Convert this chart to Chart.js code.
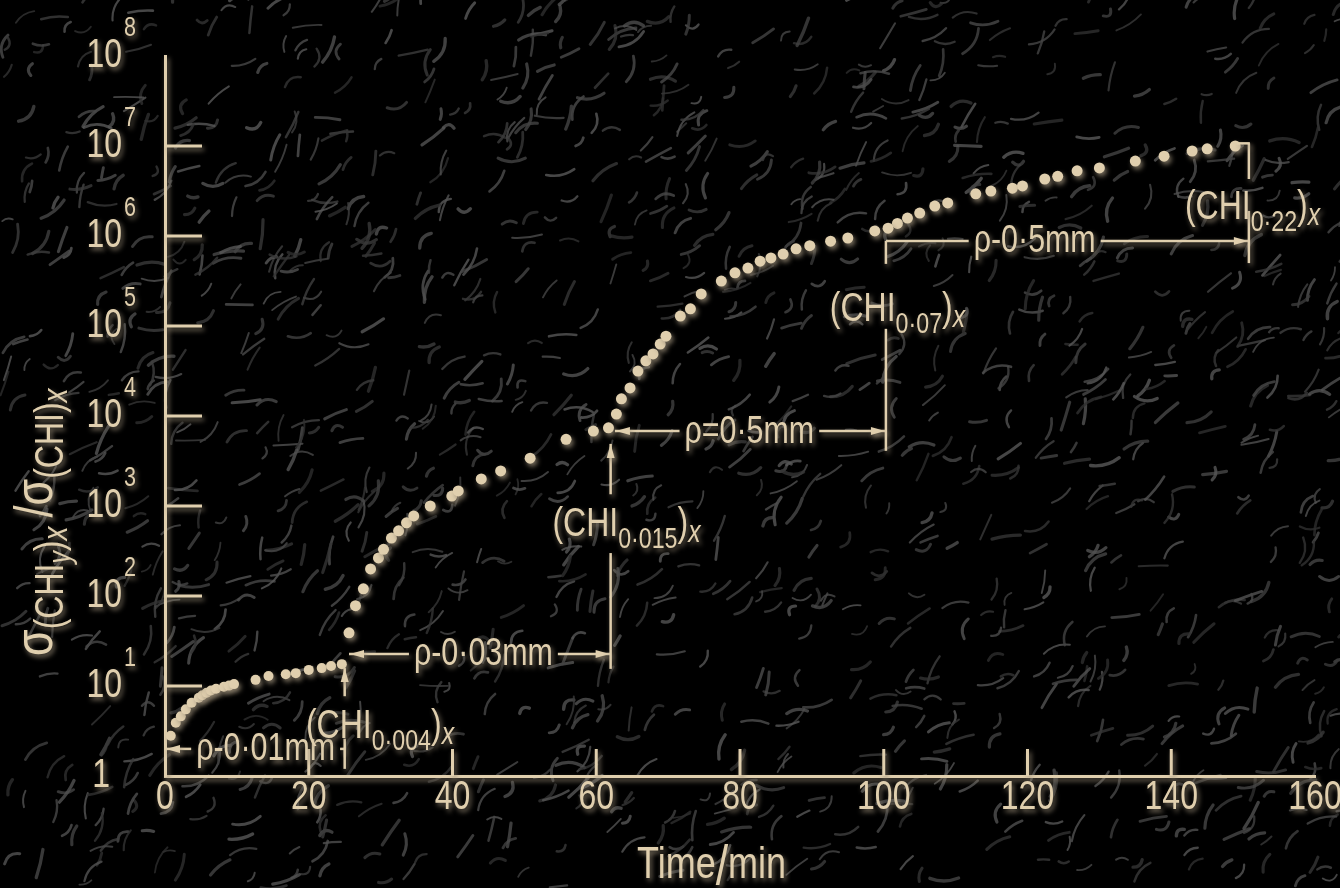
<!DOCTYPE html>
<html>
<head>
<meta charset="utf-8">
<title>Cross-section ratio vs time</title>
<script src="https://cdn.jsdelivr.net/npm/chart.js@4/dist/chart.umd.min.js"></script>
<style>
  html, body { margin: 0; padding: 0; background: #000; }
  canvas { display: block; }
</style>
</head>
<body>
<canvas id="chart" width="1340" height="888"></canvas>
<script>
// Values: time in minutes, ratio sigma(CHIy)x / sigma(CHI)x
const timeA  = [0.8, 1.5, 2.2, 2.9, 3.7, 4.7, 5.2, 5.8, 6.4, 7.1, 8.2, 8.9, 9.6, 12.6, 14.4, 16.8, 18.2, 20.0, 21.8, 23.1, 24.6];
const ratioA = [2.8, 3.9, 4.6, 5.5, 6.5, 7.4, 7.9, 8.4, 8.9, 9.3, 9.8, 10.1, 10.5, 11.7, 12.9, 13.5, 13.9, 15.1, 15.8, 16.7, 17.5];

const timeB  = [25.6, 26.5, 27.6, 28.6, 29.7, 30.4, 31.5, 32.5, 33.6, 34.6, 36.9, 39.9, 40.8, 44.0, 46.7, 50.8, 55.8, 59.6, 61.7];
const ratioB = [39, 78, 120, 200, 265, 330, 440, 530, 650, 775, 1000, 1290, 1470, 2000, 2450, 3400, 5500, 6800, 7400];

const timeC  = [62.8, 63.5, 64.7, 65.8, 66.9, 67.9, 68.9, 69.7, 71.7, 73.1, 74.6, 77.4, 79.3, 81.1, 82.8, 84.3, 86.0, 87.8, 89.7, 92.6, 95.0, 98.75, 100.6];
const ratioC = [1.05e4, 1.55e4, 2.05e4, 3.16e4, 4.1e4, 4.9e4, 6.3e4, 7.7e4, 1.29e5, 1.55e5, 2.27e5, 3.16e5, 3.9e5, 4.4e5, 5.25e5, 5.7e5, 6.3e5, 7.2e5, 7.8e5, 8.75e5, 9.5e5, 1.14e6, 1.22e6];

const timeD  = [101.9, 103.3, 105.0, 107.1, 108.9, 112.8, 114.9, 117.9, 119.3, 122.4, 124.2, 126.9, 130.0, 135.0, 139.0, 142.9, 145.0, 148.9];
const ratioD = [1.38e6, 1.58e6, 1.8e6, 2.15e6, 2.33e6, 2.94e6, 3.16e6, 3.4e6, 3.6e6, 4.3e6, 4.6e6, 5.3e6, 5.7e6, 6.8e6, 7.7e6, 8.8e6, 9.3e6, 1.0e7];

const yDecades   = [1, 1e1, 1e2, 1e3, 1e4, 1e5, 1e6, 1e7, 1e8];
const yExponents = ['', '1', '2', '3', '4', '5', '6', '7', '8'];

const INK = '#e0cfae';
const FONT = '"Liberation Sans", Arial, "DejaVu Sans", sans-serif';
const SQ = 0.8; // horizontal squeeze, the figure uses a narrow face
function font(size, style) { return (style || '') + ' ' + size + 'px ' + FONT; }

function pts(t, r) { return t.map((v, i) => ({ x: v, y: r[i] })); }

// dimension arrows and bars, in data units
const spans = [
  { x0: 0, x1: 25, y: 2.0, label: 'ρ-0·01mm', at: 14.0, left: true, right: false },
  { x0: 25.6, x1: 62, y: 22.7, label: 'ρ-0·03mm', at: 44.3, left: true, right: true },
  { x0: 62.6, x1: 100.3, y: 6800, label: 'ρ=0·5mm', at: 81.3, left: true, right: true },
  { x0: 100.3, x1: 150.8, y: 8.8e5, label: 'ρ-0·5mm', at: 121.0, left: false, right: true }
];
const bars = [
  { x: 25, y0: 15.8, y1: 7.7, up: true }, { x: 25, y0: 2.6, y1: 1.2 },
  { x: 62, y0: 4900, y1: 1350, up: true }, { x: 62, y0: 300, y1: 15.5 },
  { x: 100.3, y0: 9.3e4, y1: 4100 }, { x: 100.3, y0: 8.8e5, y1: 4.9e5 },
  { x: 150.8, y0: 1.07e7, y1: 4.3e6 }, { x: 150.8, y0: 1.9e6, y1: 5e5 }
];
const labels = [
  { x: 19.6, y: 2.64, sub: '0·004' },
  { x: 53.9, y: 464, sub: '0·015' },
  { x: 92.5, y: 1.137e5, sub: '0·07' },
  { x: 141.9, y: 1.55e6, sub: '0·22' }
];

function seeded(seed) {
  return function () { seed = (seed * 1664525 + 1013904223) >>> 0; return seed / 4294967296; };
}

function drawTexture(ctx, w, h) {
  const rnd = seeded(20240611);
  ctx.lineCap = 'round';
  for (let i = 0; i < 1500; i++) {
    const x = rnd() * w, y = rnd() * h;
    const len = 10 + rnd() * 20;
    const a = -0.7 + (rnd() - 0.5) * 1.6;
    const bend = (rnd() - 0.5) * 16;
    const dx = Math.cos(a) * len, dy = Math.sin(a) * len;
    const g = 45 + Math.floor(rnd() * 45);
    ctx.strokeStyle = 'rgba(' + g + ',' + g + ',' + g + ',0.8)';
    ctx.lineWidth = 1.8 + rnd() * 1.6;
    ctx.beginPath();
    ctx.moveTo(x, y);
    ctx.quadraticCurveTo(x + dx / 2 - dy / len * bend, y + dy / 2 + dx / len * bend, x + dx, y + dy);
    ctx.stroke();
  }
}

function setEmboss(ctx) {
  ctx.shadowColor = 'rgba(150,138,116,0.8)';
  ctx.shadowBlur = 5;
  ctx.shadowOffsetX = 2;
  ctx.shadowOffsetY = 3;
}

// narrow text: squeeze horizontally around the anchor
function txt(ctx, s, x, y) {
  ctx.save();
  ctx.translate(x, y);
  ctx.scale(SQ, 1);
  ctx.fillText(s, 0, 0);
  ctx.restore();
}

// draws a run of text pieces with baseline offsets, returns end x
function run(ctx, x, y, parts) {
  ctx.textAlign = 'left';
  ctx.textBaseline = 'alphabetic';
  for (const p of parts) {
    ctx.font = font(p.size, p.italic ? 'italic' : '');
    txt(ctx, p.t, x, y + (p.dy || 0));
    x += ctx.measureText(p.t).width * SQ + (p.gap || 0);
  }
  return x;
}

function head(ctx, x, y, dir) {
  const L = 14, W = 4;
  ctx.beginPath();
  if (dir === 'left') { ctx.moveTo(x, y); ctx.lineTo(x + L, y - W); ctx.lineTo(x + L, y + W); }
  if (dir === 'right') { ctx.moveTo(x, y); ctx.lineTo(x - L, y - W); ctx.lineTo(x - L, y + W); }
  if (dir === 'up') { ctx.moveTo(x, y); ctx.lineTo(x - W, y + L); ctx.lineTo(x + W, y + L); }
  ctx.closePath();
  ctx.fill();
}

function line(ctx, x0, y0, x1, y1) {
  ctx.beginPath(); ctx.moveTo(x0, y0); ctx.lineTo(x1, y1); ctx.stroke();
}

const embossPlugin = {
  id: 'emboss',
  beforeDraw(chart) {
    const ctx = chart.ctx;
    ctx.save();
    ctx.fillStyle = '#000';
    ctx.fillRect(0, 0, chart.width, chart.height);
    drawTexture(ctx, chart.width, chart.height);
    ctx.restore();
    ctx.save();
    setEmboss(ctx);
  },
  afterDraw(chart) {
    const ctx = chart.ctx;
    const xs = chart.scales.x, ys = chart.scales.y;
    const area = chart.chartArea;
    const X = v => xs.getPixelForValue(v), Y = v => ys.getPixelForValue(v);
    ctx.strokeStyle = INK;
    ctx.fillStyle = INK;
    ctx.lineWidth = 3;
    ctx.lineCap = 'butt';

    // inward tick marks
    xs.ticks.forEach(t => {
      if (t.value > xs.min && t.value < xs.max) line(ctx, X(t.value), area.bottom, X(t.value), area.bottom - 27);
    });
    ys.ticks.forEach(t => {
      if (t.value > ys.min && t.value < ys.max) line(ctx, area.left, Y(t.value), area.left + 37, Y(t.value));
    });

    // x tick labels
    ctx.font = font(40);
    ctx.textAlign = 'center';
    ctx.textBaseline = 'middle';
    xs.ticks.forEach(t => txt(ctx, String(t.value), X(t.value), area.bottom + 22));

    // y tick labels with superscripts
    yDecades.forEach((v, i) => {
      const py = Y(v);
      ctx.textBaseline = 'middle';
      ctx.font = font(40); ctx.textAlign = 'right';
      if (!yExponents[i]) {
        txt(ctx, '1', 110, py);
        return;
      }
      txt(ctx, '10', 122, py);
      ctx.font = font(27); ctx.textAlign = 'left';
      txt(ctx, yExponents[i], 124, py - 27);
    });

    // axis titles
    run(ctx, 637, 878, [{ t: 'Time', size: 45 }, { t: '/', size: 56, dy: 6 }, { t: 'min', size: 45 }]);
    ctx.save();
    ctx.translate(52, 656);
    ctx.rotate(-Math.PI / 2);
    run(ctx, 0, 0, [
      { t: 'σ', size: 54 }, { t: '(CHI', size: 40, dy: 11 }, { t: 'y', size: 31, dy: 18, italic: true },
      { t: ')', size: 40, dy: 11 }, { t: 'x', size: 35, dy: 15, italic: true, gap: 9 },
      { t: '/', size: 54 }, { t: 'σ', size: 54 }, { t: '(CHI)', size: 40, dy: 11 },
      { t: 'x', size: 35, dy: 15, italic: true }
    ]);
    ctx.restore();

    // dimension arrows
    ctx.lineWidth = 2.5;
    spans.forEach(s => {
      const py = Y(s.y), a = X(s.x0), b = X(s.x1), c = X(s.at);
      ctx.font = font(38);
      const w = ctx.measureText(s.label).width * SQ;
      ctx.textAlign = 'center'; ctx.textBaseline = 'middle';
      txt(ctx, s.label, c, py + 1);
      if (c - w / 2 - 5 > a) line(ctx, a, py, c - w / 2 - 5, py);
      if (c + w / 2 + 5 < b) line(ctx, c + w / 2 + 5, py, b, py);
      if (s.left) head(ctx, a + 1, py, 'left');
      if (s.right) head(ctx, b - 1, py, 'right');
    });
    bars.forEach(b => {
      line(ctx, X(b.x), Y(b.y0), X(b.x), Y(b.y1));
      if (b.up) head(ctx, X(b.x), Y(b.y0), 'up');
    });
    // small hook at the top of the last bar
    line(ctx, X(149.1), Y(1.07e7), X(150.8) + 1, Y(1.07e7));

    // (CHI_n)x labels
    labels.forEach(l => {
      run(ctx, X(l.x), Y(l.y), [
        { t: '(CHI', size: 40 }, { t: l.sub, size: 29, dy: 12 },
        { t: ')', size: 40 }, { t: 'x', size: 31, dy: 6, italic: true }
      ]);
    });

    ctx.restore();
  }
};

const dotStyle = { backgroundColor: INK, borderWidth: 0, pointRadius: 5.5, pointHoverRadius: 5.5, showLine: false };

new Chart(document.getElementById('chart'), {
  type: 'scatter',
  data: {
    datasets: [
      Object.assign({ label: 'ρ 0·01 mm', data: pts(timeA, ratioA) }, dotStyle, { pointRadius: 5 }),
      Object.assign({ label: 'ρ 0·03 mm', data: pts(timeB, ratioB) }, dotStyle),
      Object.assign({ label: 'ρ 0·5 mm', data: pts(timeC, ratioC) }, dotStyle),
      Object.assign({ label: 'ρ 0·5 mm (2)', data: pts(timeD, ratioD) }, dotStyle)
    ]
  },
  options: {
    responsive: false,
    animation: false,
    layout: { padding: { top: 56, right: 25, bottom: 0, left: 0 } },
    plugins: { legend: { display: false }, tooltip: { enabled: false } },
    scales: {
      x: {
        type: 'linear', min: 0, max: 160,
        ticks: { stepSize: 20, display: false },
        grid: { display: false },
        border: { display: true, color: INK, width: 3 },
        afterFit: s => { s.height = 112; }
      },
      y: {
        type: 'logarithmic', min: 1, max: 1e8,
        afterBuildTicks: s => { s.ticks = yDecades.map(v => ({ value: v })); },
        ticks: { display: false },
        grid: { display: false },
        border: { display: true, color: INK, width: 3 },
        afterFit: s => { s.width = 165; }
      }
    }
  },
  plugins: [embossPlugin]
});
</script>
</body>
</html>
